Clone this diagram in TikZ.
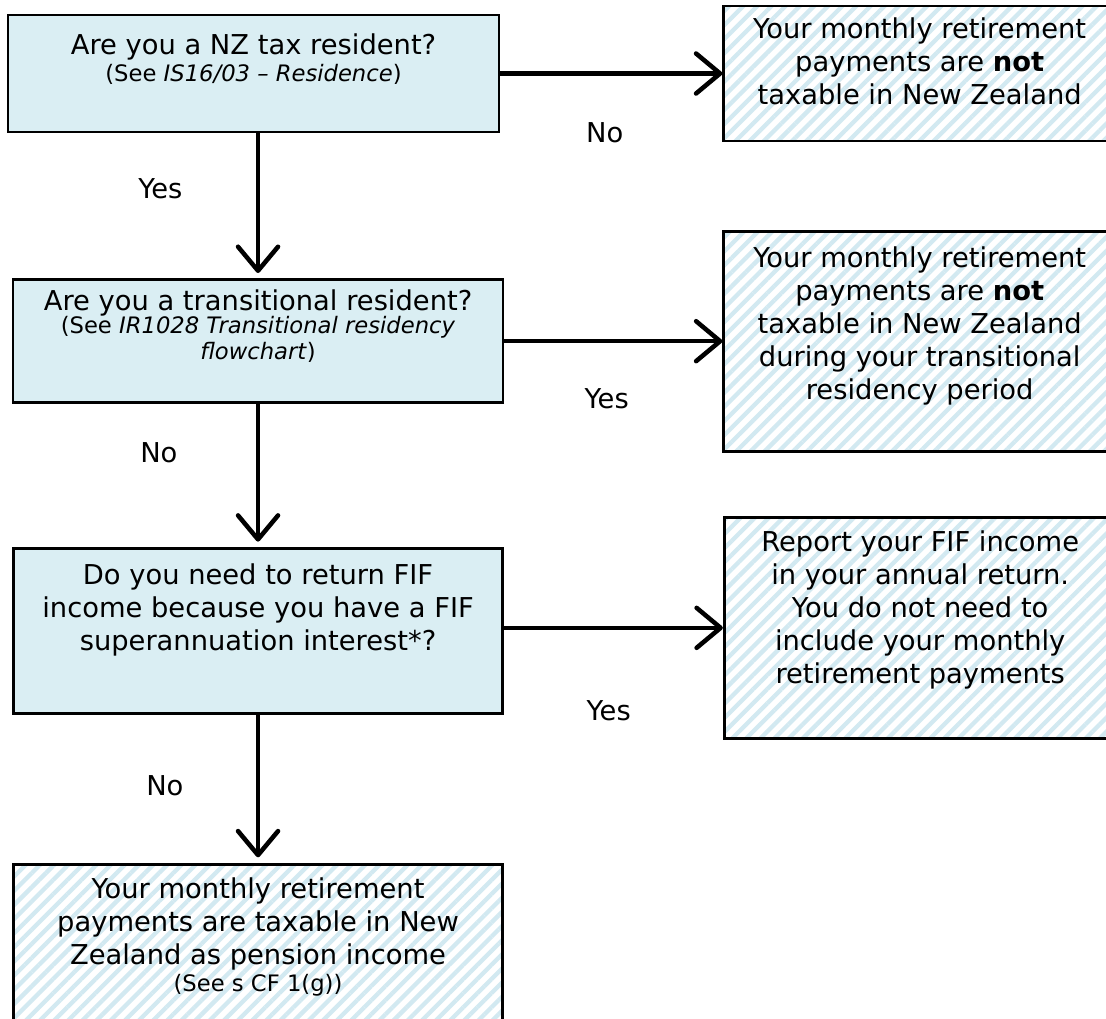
\documentclass[tikz,border=0pt]{standalone}
\usepackage{fontspec}
\setmainfont{DejaVu Sans}
\usepackage{tikz}
\usetikzlibrary{positioning,arrows.meta,patterns.meta}
\definecolor{qblue}{HTML}{DAEEF3}
\definecolor{hatchblue}{HTML}{D2E9F1}
\newcommand{\bigtxt}{\fontsize{20.5}{24.75}\selectfont}
\newcommand{\smalltxt}{\fontsize{17}{20}\selectfont}

\begin{document}
\begin{tikzpicture}[
    x=0.75pt, y=-0.75pt,
    font=\bigtxt,
    >={Straight Barb[round,length=18pt,width=30pt]},
    question/.style={draw, line width=2pt, fill=qblue},
    answer/.style={draw, line width=2pt, minimum width=294pt,
      pattern={Lines[angle=45,distance=7.5pt,line width=3.2pt]}, pattern color=hatchblue},
    boxtext/.style={anchor=north, align=center, inner sep=0pt},
    trans/.style={->, line width=3.4pt},
    down/.style={trans, shorten >=4pt},
    lbl/.style={inner sep=0pt},
  ]
  \fill[white] (0,0) rectangle (1106,1018);
  \useasboundingbox (0,0) rectangle (1106,1018);

  % questions, left column
  \node[question, minimum width=368.25pt, minimum height=87.75pt] (resident) at (253.5,73.5) {};
  \node[question, minimum width=367.5pt, minimum height=92.25pt, below=108.75pt of resident, xshift=3.4pt] (transitional) {};
  \node[question, minimum width=366.75pt, minimum height=123.75pt, below=107.25pt of transitional] (fif) {};
  \node[answer, minimum width=366.75pt, minimum height=135pt, below=111pt of fif] (pension) {};

  % answers, right column
  \node[answer, minimum height=101.25pt, right=166.5pt of resident] (nottaxable) {};
  \node[answer, minimum height=165pt, right=163.5pt of transitional] (transperiod) {};
  \node[answer, minimum height=165.75pt, right=164.25pt of fif, yshift=2.25pt] (fifreport) {};

  \node[boxtext, yshift=-14.5pt] (resident-t) at (resident.north)
    {Are you a NZ tax resident?\\[-4.25pt]{\smalltxt (See \textit{IS16/03 – Residence})}};
  \node[boxtext, yshift=-8.5pt] (transitional-t) at (transitional.north)
    {Are you a transitional resident?\\[-7.5pt]{\smalltxt (See \textit{IR1028 Transitional residency}}\\[-5.25pt]{\smalltxt\textit{flowchart})}};
  \node[boxtext, yshift=-12.25pt] (fif-t) at (fif.north)
    {Do you need to return FIF\\income because you have a FIF\\superannuation interest*?};
  \node[boxtext, yshift=-10.75pt] (pension-t) at (pension.north)
    {Your monthly retirement\\payments are taxable in New\\Zealand as pension income\\[-4.25pt]{\smalltxt (See s CF 1(g))}};
  \node[boxtext, yshift=-9.25pt] (nottaxable-t) at (nottaxable.north)
    {Your monthly retirement\\payments are \textbf{not}\\taxable in New Zealand};
  \node[boxtext, yshift=-12.25pt] (transperiod-t) at (transperiod.north)
    {Your monthly retirement\\payments are \textbf{not}\\taxable in New Zealand\\during your transitional\\residency period};
  \node[boxtext, yshift=-10.75pt] (fifreport-t) at (fifreport.north)
    {Report your FIF income\\in your annual return.\\You do not need to\\include your monthly\\retirement payments};

  \draw[trans] (resident.east) -- (resident.east -| nottaxable.west)
    node[midway, below=35pt, xshift=-5pt, lbl] (no1) {No};
  \draw[trans] (transitional.east) -- (transitional.east -| transperiod.west)
    node[midway, below=33.75pt, xshift=-5pt, lbl] (yes2) {Yes};
  \draw[trans] (fifreport.west -| fif.east) -- (fifreport.west)
    node[midway, below=52.5pt, xshift=-3.5pt, lbl] (yes3) {Yes};

  \draw[down] (transitional.north |- resident.south) -- (transitional.north)
    node[pos=0.38, left=55pt, lbl] (yes1) {Yes};
  \draw[down] (fif.north |- transitional.south) -- (fif.north)
    node[pos=0.34, left=58.75pt, lbl] (no2) {No};
  \draw[down] (pension.north |- fif.south) -- (pension.north)
    node[pos=0.48, left=54.25pt, lbl] (no3) {No};
\end{tikzpicture}
\end{document}
